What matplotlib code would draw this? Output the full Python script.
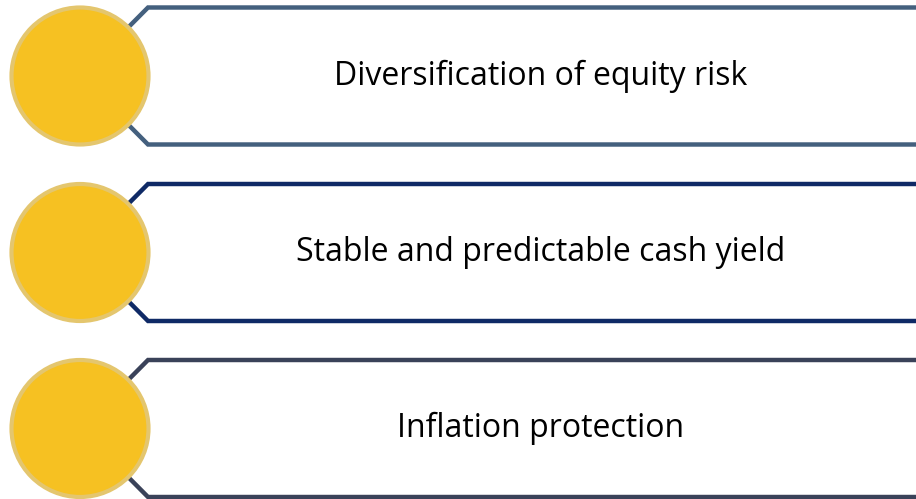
import matplotlib.pyplot as plt
from matplotlib.patches import Circle, Polygon

labels = ['Diversification of equity risk',
          'Stable and predictable cash yield',
          'Inflation protection']
frame_colors = ['#44607E', '#0F2A66', '#3A4259']
row_centers = [76, 252.5, 428.5]

fig = plt.figure(figsize=(9.16, 4.99), dpi=100)
ax = fig.add_axes([0, 0, 1, 1])
ax.set_xlim(0, 916)
ax.set_ylim(499, 0)
ax.axis('off')

half_h = 68.5
for label, col, yc in zip(labels, frame_colors, row_centers):
    # chevron-shaped frame, open to the right
    pts = [(930, yc - half_h), (148, yc - half_h), (80, yc),
           (148, yc + half_h), (930, yc + half_h)]
    ax.add_patch(Polygon(pts, closed=False, fill=False, edgecolor=col,
                         linewidth=3.2, joinstyle='miter', zorder=1))
    ax.add_patch(Circle((80, yc), 68.5, facecolor='#F6C122',
                        edgecolor='#E4C66E', linewidth=3, zorder=2))
    ax.text(541, yc, label, ha='center', va='center', fontsize=23,
            family='Open Sans', color='black', zorder=3)

fig.savefig('out.png', dpi=100)
